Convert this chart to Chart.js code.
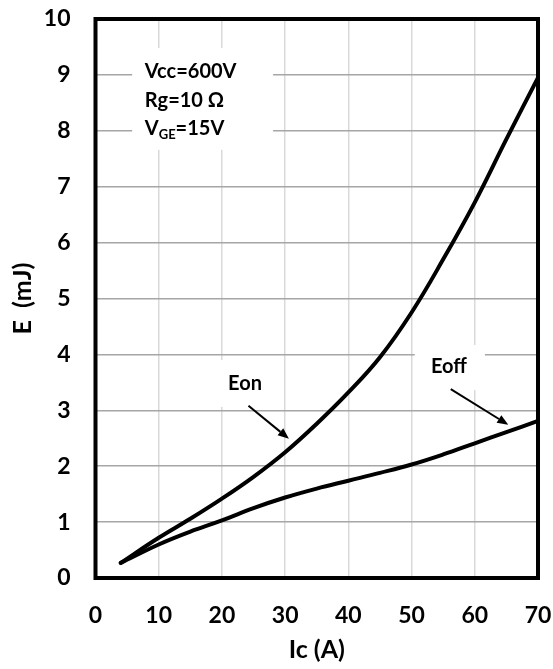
<!DOCTYPE html>
<html>
<head>
<meta charset="utf-8">
<script src="https://cdn.jsdelivr.net/npm/chart.js@4"></script>
<style>
  html, body { margin: 0; padding: 0; background: #fff; }
  #wrap { width: 553px; height: 669px; }
</style>
</head>
<body>
<div id="wrap"><canvas id="c" width="553" height="669"></canvas></div>
<script>
// ---- data ----
const currents = [4, 10, 15, 20, 25, 30, 35, 40, 45, 50, 55, 60, 65, 70];
const eonValues = [0.27, 0.72, 1.06, 1.42, 1.81, 2.25, 2.76, 3.32, 3.95, 4.75, 5.70, 6.72, 7.85, 8.95];
const eoffValues = [0.27, 0.60, 0.83, 1.03, 1.25, 1.44, 1.60, 1.74, 1.88, 2.03, 2.21, 2.41, 2.61, 2.81];
const xTicks = [0, 10, 20, 30, 40, 50, 60, 70];
const yTicks = [0, 1, 2, 3, 4, 5, 6, 7, 8, 9, 10];
const conditionLines = ["Vcc=600V", "Rg=10 Ω", "V|GE|=15V"];

// ---- annotation placement (data coordinates) ----
const condBox = { x0: 5.8, x1: 28.1, y0: 9.48, y1: 7.66, textX: 7.8, rows: [9.06, 8.55, 8.04] };
const seriesLabels = [
  { text: "Eon", x: 23.65, y: 3.48, box: [17.3, 29.7, 3.9, 3.06], from: [24.2, 3.08], to: [30.6, 2.49] },
  { text: "Eoff", x: 55.9, y: 3.78, box: [50.5, 61.6, 4.17, 3.36], from: [56.2, 3.38], to: [65.3, 2.74] }
];

const FONT = "Lato, 'Open Sans', sans-serif";

function pts(xs, ys) { return xs.map((x, i) => ({ x: x, y: ys[i] })); }

function arrow(ctx, x1, y1, x2, y2) {
  const ang = Math.atan2(y2 - y1, x2 - x1);
  const hl = 11, hw = 4.5;
  const bx = x2 - hl * Math.cos(ang), by = y2 - hl * Math.sin(ang);
  ctx.beginPath();
  ctx.moveTo(x1, y1);
  ctx.lineTo(bx, by);
  ctx.lineWidth = 2;
  ctx.strokeStyle = "#000";
  ctx.stroke();
  ctx.beginPath();
  ctx.moveTo(x2, y2);
  ctx.lineTo(bx + hw * Math.sin(ang), by - hw * Math.cos(ang));
  ctx.lineTo(bx - hw * Math.sin(ang), by + hw * Math.cos(ang));
  ctx.closePath();
  ctx.fillStyle = "#000";
  ctx.fill();
}

const decorPlugin = {
  id: "decor",
  beforeDatasetsDraw(chart) {
    const ctx = chart.ctx, xs = chart.scales.x, ys = chart.scales.y, a = chart.chartArea;
    ctx.save();
    ctx.fillStyle = "#fff";
    ctx.fillRect(xs.getPixelForValue(condBox.x0), ys.getPixelForValue(condBox.y0),
      xs.getPixelForValue(condBox.x1) - xs.getPixelForValue(condBox.x0),
      ys.getPixelForValue(condBox.y1) - ys.getPixelForValue(condBox.y0));
    seriesLabels.forEach(l => {
      const bx0 = xs.getPixelForValue(l.box[0]), bx1 = xs.getPixelForValue(l.box[1]);
      const by0 = ys.getPixelForValue(l.box[2]), by1 = ys.getPixelForValue(l.box[3]);
      ctx.fillRect(bx0, by0, bx1 - bx0, by1 - by0);
    });
    ctx.fillStyle = "#000";
    ctx.textBaseline = "middle";
    ctx.textAlign = "left";
    const tx = xs.getPixelForValue(condBox.textX);
    conditionLines.forEach((line, i) => {
      const ty = ys.getPixelForValue(condBox.rows[i]);
      const parts = line.split("|");
      let cx = tx;
      parts.forEach((p, j) => {
        if (j % 2 === 1) {
          ctx.font = "bold 13px " + FONT;
          ctx.fillText(p, cx, ty + 6);
        } else {
          ctx.font = "bold 20px " + FONT;
          ctx.fillText(p, cx, ty);
        }
        cx += ctx.measureText(p).width;
      });
    });
    ctx.font = "bold 20px " + FONT;
    ctx.textAlign = "center";
    seriesLabels.forEach(l => {
      ctx.fillStyle = "#000";
      ctx.fillText(l.text, xs.getPixelForValue(l.x), ys.getPixelForValue(l.y));
      arrow(ctx, xs.getPixelForValue(l.from[0]), ys.getPixelForValue(l.from[1]),
        xs.getPixelForValue(l.to[0]), ys.getPixelForValue(l.to[1]));
    });
    ctx.lineWidth = 4;
    ctx.strokeStyle = "#000";
    ctx.strokeRect(a.left, a.top, a.right - a.left, a.bottom - a.top);
    ctx.restore();
  }
};

const tickFont = { family: FONT, size: 23, weight: "bold" };
const titleFont = { family: FONT, size: 25, weight: "bold" };

new Chart(document.getElementById("c"), {
  type: "line",
  data: {
    datasets: [
      { label: "Eon", data: pts(currents, eonValues), borderColor: "#000", borderWidth: 4,
        pointRadius: 0, tension: 0.4, borderCapStyle: "round", borderJoinStyle: "round", fill: false },
      { label: "Eoff", data: pts(currents, eoffValues), borderColor: "#000", borderWidth: 4,
        pointRadius: 0, tension: 0.4, borderCapStyle: "round", borderJoinStyle: "round", fill: false }
    ]
  },
  options: {
    responsive: false,
    animation: false,
    devicePixelRatio: 1,
    layout: { padding: { left: 0, right: 15, top: 19, bottom: 0 } },
    plugins: { legend: { display: false }, tooltip: { enabled: false } },
    scales: {
      x: {
        type: "linear", min: 0, max: 70,
        afterBuildTicks: s => { s.ticks = xTicks.map(v => ({ value: v })); },
        afterFit: s => { s.height = 91; s.paddingLeft = 0; s.paddingRight = 0; s.paddingTop = 0; s.paddingBottom = 0; },
        ticks: { color: "#000", font: tickFont, padding: 24, maxRotation: 0 },
        grid: { color: "#d9d9d9", lineWidth: 1.5, drawTicks: false },
        border: { display: false },
        title: { display: true, text: "Ic (A)", color: "#000", font: titleFont, padding: { top: 4, bottom: 4 } }
      },
      y: {
        type: "linear", min: 0, max: 10,
        afterBuildTicks: s => { s.ticks = yTicks.map(v => ({ value: v })); },
        afterFit: s => { s.width = 95.5; s.paddingLeft = 0; s.paddingRight = 0; s.paddingTop = 0; s.paddingBottom = 0; },
        ticks: { color: "#000", font: tickFont, padding: 25 },
        grid: { color: "#a6a6a6", lineWidth: 1.5, drawTicks: false },
        border: { display: false },
        title: { display: true, text: "E  (mJ)", color: "#000", font: titleFont, padding: { top: 8, bottom: 4 } }
      }
    }
  },
  plugins: [decorPlugin]
});
</script>
</body>
</html>
